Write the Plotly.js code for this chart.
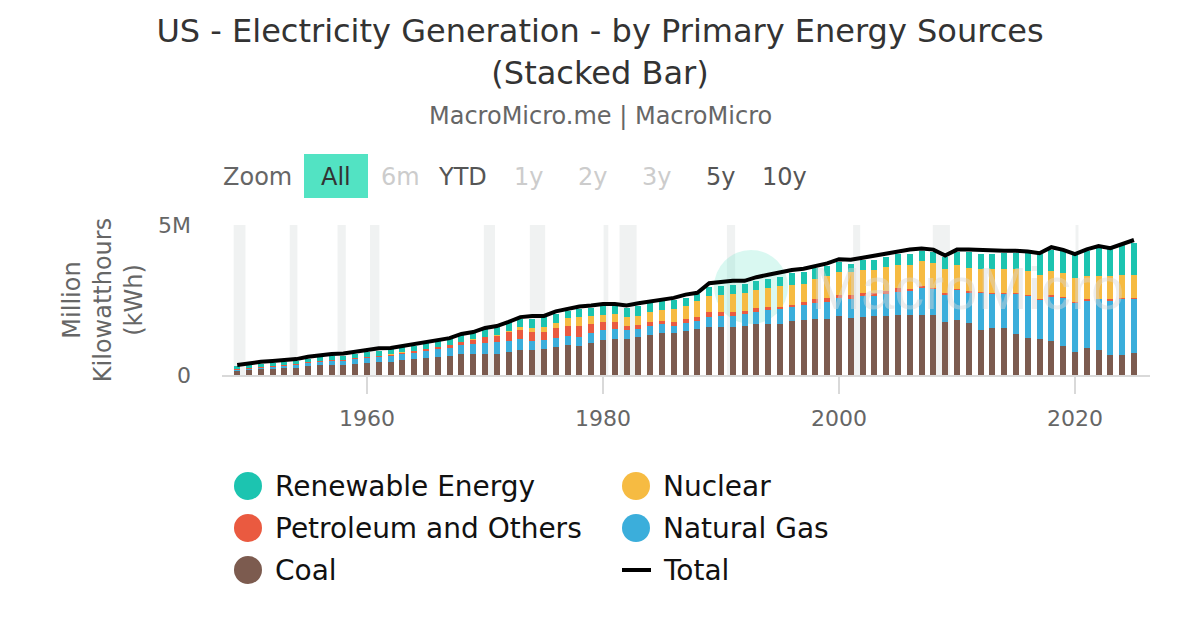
<!DOCTYPE html>
<html>
<head>
<meta charset="utf-8">
<script src="https://cdn.plot.ly/plotly-3.0.1.min.js"></script>
<style>
  html, body { margin: 0; padding: 0; background: #ffffff; }
  #chart { width: 1200px; height: 630px; }
</style>
</head>
<body>
<div id="chart"></div>
<script>
// ---------------- DATA (million kWh) ----------------
const years = [
  1949,1950,1951,1952,1953,1954,1955,1956,1957,1958,
  1959,1960,1961,1962,1963,1964,1965,1966,1967,1968,
  1969,1970,1971,1972,1973,1974,1975,1976,1977,1978,
  1979,1980,1981,1982,1983,1984,1985,1986,1987,1988,
  1989,1990,1991,1992,1993,1994,1995,1996,1997,1998,
  1999,2000,2001,2002,2003,2004,2005,2006,2007,2008,
  2009,2010,2011,2012,2013,2014,2015,2016,2017,2018,
  2019,2020,2021,2022,2023,2024,2025
];

const coal = [
  136000,155000,185000,191000,219000,239000,301000,338000,346000,344000,
  378000,403000,422000,450000,494000,526000,571000,613000,630000,685000,
  706000,704000,713000,771000,848000,828000,853000,944000,985000,976000,
  1075000,1162000,1203000,1192000,1259000,1342000,1402000,1386000,1464000,1541000,
  1584000,1594000,1591000,1621000,1690000,1691000,1709000,1796000,1845000,1874000,
  1881000,1966000,1904000,1933000,1974000,1978000,2013000,1991000,2016000,1986000,
  1756000,1847000,1733000,1514000,1581000,1582000,1352000,1239000,1206000,1146000,
  965000,773000,898000,828000,675000,653000,720000
];

const naturalGas = [
  37000,45000,57000,72000,82000,93000,95000,104000,114000,120000,
  147000,158000,169000,184000,202000,220000,222000,251000,265000,304000,
  333000,373000,374000,376000,341000,320000,300000,295000,306000,305000,
  329000,346000,346000,305000,274000,297000,292000,249000,273000,253000,
  352000,373000,382000,404000,415000,460000,496000,455000,479000,531000,
  556000,601000,639000,691000,650000,710000,761000,816000,897000,883000,
  921000,988000,1014000,1226000,1125000,1126000,1335000,1379000,1297000,1469000,
  1586000,1617000,1580000,1689000,1802000,1880000,1800000
];

const petroleumOthers = [
  29000,34000,29000,30000,38000,36000,37000,38000,40000,41000,
  47000,48000,49000,48000,52000,57000,65000,79000,89000,104000,
  138000,184000,220000,274000,314000,301000,289000,320000,358000,365000,
  304000,246000,206000,147000,144000,120000,100000,137000,118000,149000,
  170000,127000,120000,100000,113000,105000,75000,82000,93000,129000,
  124000,111000,125000,94000,119000,121000,122000,64000,66000,46000,
  45000,30000,45000,40000,30000,35000,50000,45000,25000,45000,
  40000,45000,45000,25000,40000,25000,45000
];

const nuclear = [
  0,0,0,0,0,0,0,0,10,200,
  200,500,1700,2300,3200,3300,3700,5500,7700,12500,
  13900,21800,38100,54100,83500,114000,173000,191000,251000,276000,
  255000,251000,273000,283000,294000,328000,384000,414000,455000,527000,
  529000,577000,613000,619000,610000,640000,673000,675000,629000,673000,
  728000,754000,769000,780000,764000,789000,782000,787000,806000,806000,
  799000,807000,790000,769000,789000,797000,797000,806000,805000,807000,
  809000,790000,778000,772000,775000,782000,780000
];

const renewable = [
  95000,101000,104000,106000,107000,109000,117000,123000,130000,141000,
  138000,149000,153000,169000,166000,177000,194000,195000,222000,223000,
  251000,250000,269000,276000,275000,304000,303000,287000,223000,283000,
  284000,279000,266000,313000,335000,324000,294000,302000,260000,234000,
  300000,310000,310000,290000,320000,300000,330000,380000,390000,350000,
  350000,320000,270000,330000,340000,340000,350000,380000,350000,380000,
  418000,427000,513000,494000,520000,540000,545000,610000,708000,713000,
  735000,792000,826000,913000,894000,980000,1040000
];

const total = [
  330000,390000,440000,470000,500000,530000,610000,660000,700000,720000,
  780000,830000,890000,900000,970000,1030000,1100000,1170000,1230000,1370000,
  1430000,1570000,1630000,1770000,1930000,1970000,1970000,2120000,2210000,2280000,
  2320000,2370000,2370000,2320000,2390000,2460000,2520000,2570000,2680000,2740000,
  3060000,3110000,3140000,3140000,3260000,3340000,3430000,3500000,3540000,3630000,
  3720000,3860000,3840000,3910000,3980000,4040000,4110000,4180000,4220000,4180000,
  3980000,4180000,4180000,4160000,4160000,4140000,4140000,4120000,4060000,4260000,
  4170000,4030000,4190000,4300000,4230000,4370000,4500000
];

// US recession periods (decimal years) for background shading
const recessionStart = [1948.7,1953.45,1957.5,1960.25,1969.9,1973.8,1980.05,1981.4,1990.5,2001.2,2007.95,2020.05];
const recessionEnd   = [1949.7,1954.1,1958.2,1961.05,1970.85,1975.1,1980.45,1982.85,1991.2,2001.8,2009.4,2020.3];

const seriesNames = ['Coal','Natural Gas','Petroleum and Others','Nuclear','Renewable Energy','Total'];
const seriesColors = ['#7c5b4f','#3baedb','#ea5a40','#f6bb42','#1cc4b0','#000000'];

const xTickVals = [1960,1980,2000,2020];
const yTickVals = [0,5000000];
const yTickText = ['0','5M'];

const rangeButtons = ['All','6m','YTD','1y','2y','3y','5y','10y'];

// ---------------- LAYOUT HELPERS ----------------
const FONT = 'DejaVu Sans, Verdana, sans-serif';
const PL = 222, PW = 928, PT = 225, PH = 150;   // plot area in pixels
const px = v => (v - PL) / PW;                    // pixel -> paper x
const py = v => (PT + PH - v) / PH;               // pixel -> paper y

// ---------------- TRACES ----------------
const stackSeries = [coal, naturalGas, petroleumOthers, nuclear, renewable];
const traces = stackSeries.map((vals, i) => ({
  type: 'bar',
  name: seriesNames[i],
  x: years,
  y: vals,
  marker: { color: seriesColors[i], line: { width: 0 } },
  hoverinfo: 'x+y+name'
}));
traces.push({
  type: 'scatter',
  mode: 'lines',
  name: seriesNames[5],
  x: years,
  y: total,
  line: { color: seriesColors[5], width: 4 },
  hoverinfo: 'x+y+name'
});

// ---------------- SHAPES ----------------
const shapes = [];
recessionStart.forEach((s, i) => {
  shapes.push({
    type: 'rect', xref: 'x', yref: 'paper', x0: s, x1: recessionEnd[i], y0: 0, y1: 1,
    fillcolor: '#f0f2f2', line: { width: 0 }, layer: 'below'
  });
});
// watermark logo circle (below data)
shapes.push({
  type: 'circle', xref: 'paper', yref: 'paper',
  x0: px(714), x1: px(788), y0: py(324), y1: py(250),
  fillcolor: 'rgba(80,222,190,0.22)', line: { width: 0 }, layer: 'below'
});
// range-selector "All" active button background
shapes.push({
  type: 'rect', xref: 'paper', yref: 'paper',
  x0: px(304), x1: px(368), y0: py(198), y1: py(154),
  fillcolor: '#52e3c3', line: { width: 0 }
});
// custom legend symbols
const legendOrder = [4, 3, 2, 1, 0, 5];        // Renewable, Nuclear, Petroleum, Gas, Coal, Total
const legendCols = [248, 636];
const legendRows = [486, 528, 570];
const legendTextX = [273, 661];
const annotations = [];
legendOrder.forEach((si, k) => {
  const col = k % 2, row = Math.floor(k / 2);
  const cx = legendCols[col], cy = legendRows[row];
  if (si === 5) {
    shapes.push({ type: 'line', xref: 'paper', yref: 'paper',
      x0: px(cx - 14), x1: px(cx + 15), y0: py(cy), y1: py(cy),
      line: { color: seriesColors[si], width: 4 } });
  } else {
    shapes.push({ type: 'circle', xref: 'paper', yref: 'paper',
      x0: px(cx - 14), x1: px(cx + 14), y0: py(cy + 14), y1: py(cy - 14),
      fillcolor: seriesColors[si], line: { width: 0 } });
  }
  annotations.push({
    xref: 'paper', yref: 'paper', x: px(legendTextX[col]), y: py(cy),
    xanchor: 'left', yanchor: 'middle', showarrow: false,
    text: seriesNames[si], font: { family: FONT, size: 28, color: '#111111' }
  });
});

// ---------------- ANNOTATIONS ----------------
// watermark text (semi-transparent, over data)
annotations.push({
  xref: 'paper', yref: 'paper', x: px(967), y: py(288), xanchor: 'center', yanchor: 'middle',
  showarrow: false, text: 'MacroMicro',
  font: { family: 'Liberation Sans, Arial, sans-serif', size: 60, color: 'rgba(215,215,215,0.45)' }
});
annotations.push({
  xref: 'paper', yref: 'paper', x: px(600), y: py(116), xanchor: 'center', yanchor: 'middle',
  showarrow: false, text: 'MacroMicro.me | MacroMicro',
  font: { family: FONT, size: 24, color: '#666666' }
});
annotations.push({
  xref: 'paper', yref: 'paper', x: px(221), y: py(177), xanchor: 'left', yanchor: 'middle',
  showarrow: false, text: 'Zoom', font: { family: FONT, size: 24, color: '#666666' }
});
const btnX = [336, 400, 462, 528, 592, 656, 720, 784];
const btnColor = ['#333333','#cccccc','#555555','#cccccc','#cccccc','#cccccc','#555555','#555555'];
rangeButtons.forEach((b, i) => {
  annotations.push({
    xref: 'paper', yref: 'paper', x: px(btnX[i]), y: py(177), xanchor: 'center', yanchor: 'middle',
    showarrow: false, text: b, font: { family: FONT, size: 24, color: btnColor[i] }
  });
});

// ---------------- LAYOUT ----------------
const layout = {
  width: 1200, height: 630,
  margin: { l: PL, r: 1200 - PL - PW, t: PT, b: 630 - PT - PH, pad: 0 },
  paper_bgcolor: '#ffffff', plot_bgcolor: '#ffffff',
  font: { family: FONT, color: '#666666' },
  title: {
    text: 'US - Electricity Generation - by Primary Energy Sources<br>(Stacked Bar)',
    font: { family: FONT, size: 32, color: '#333333' },
    x: 0.5, xanchor: 'center', xref: 'container',
    y: 1 - 42 / 630, yanchor: 'top', yref: 'container'
  },
  barmode: 'stack',
  bargap: 0.49,
  showlegend: false,
  xaxis: {
    range: [1947.71, 2026.36],
    tickvals: xTickVals, ticktext: xTickVals.map(String),
    ticks: 'outside', ticklen: 17, tickwidth: 2, tickcolor: '#d9d9d9',
    showline: true, linecolor: '#d9d9d9', linewidth: 2,
    showgrid: false, zeroline: false,
    tickfont: { family: FONT, size: 22, color: '#666666' },
    ticklabelstandoff: 6,
    fixedrange: true
  },
  yaxis: {
    range: [0, 5000000],
    tickvals: yTickVals, ticktext: yTickText,
    showgrid: true, gridcolor: '#e6e6e6', gridwidth: 2,
    zeroline: false, showline: false, ticks: '',
    tickfont: { family: FONT, size: 22, color: '#666666' },
    ticklabelstandoff: 30,
    title: { text: 'Million<br>Kilowatthours<br>(kWh)', font: { family: FONT, size: 24, color: '#666666' }, standoff: 8 },
    automargin: false,
    fixedrange: true
  },
  shapes: shapes,
  annotations: annotations
};

Plotly.newPlot('chart', traces, layout, { displayModeBar: false, staticPlot: true });
</script>
</body>
</html>
